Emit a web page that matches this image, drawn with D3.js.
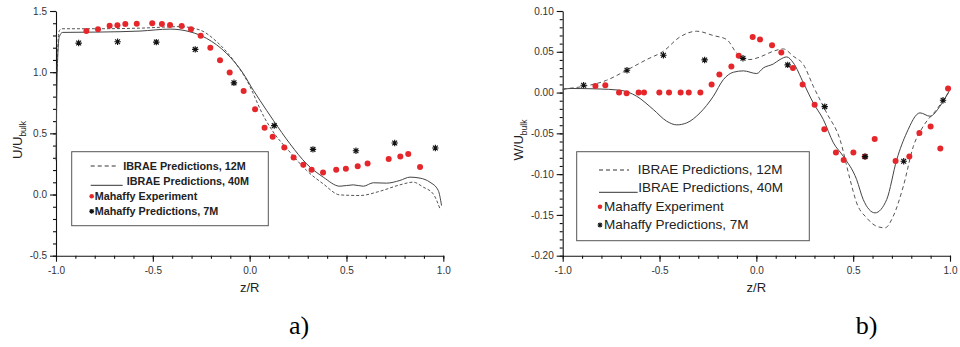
<!DOCTYPE html>
<html>
<head>
<meta charset="utf-8">
<script src="https://cdn.jsdelivr.net/npm/d3@7"></script>
<style>
  body { margin: 0; background: #fff; }
  svg { display: block; }
  .tick text { font-family: "Liberation Sans", Arial, sans-serif; font-size: 10px; fill: #333; }
</style>
</head>
<body>
<svg width="960" height="347"></svg>
<script>
// ---- data ----
const xTicks = [-1.0, -0.5, 0.0, 0.5, 1.0];
const uTicks = [-0.5, 0.0, 0.5, 1.0, 1.5];
const wTicks = [-0.20, -0.15, -0.10, -0.05, 0.00, 0.05, 0.10];

// panel a) U/Ubulk
const uIbrae12 = [
  [-0.995, 1.0], [-0.985, 1.33], [-0.971, 1.355], [-0.773, 1.355], [-0.566, 1.36], [-0.36, 1.372],
  [-0.256, 1.344], [-0.17, 1.249], [-0.084, 1.098], [-0.015, 0.934], [0.079, 0.62], [0.122, 0.511],
  [0.208, 0.347], [0.294, 0.197], [0.38, 0.087], [0.466, -0.003], [0.57, -0.008], [0.673, 0.027],
  [0.776, 0.079], [0.845, 0.101], [0.897, 0.06], [0.948, 0.005], [0.983, -0.117]
];
const uIbrae40 = [
  [-1.0, 0.28], [-0.993, 1.04], [-0.983, 1.29], [-0.966, 1.325], [-0.773, 1.328], [-0.566, 1.336],
  [-0.411, 1.352], [-0.308, 1.33], [-0.222, 1.276], [-0.119, 1.153], [-0.033, 0.989], [0.019, 0.852],
  [0.053, 0.77], [0.122, 0.607], [0.208, 0.415], [0.294, 0.251], [0.38, 0.142], [0.466, 0.068],
  [0.535, 0.079], [0.587, 0.068], [0.639, 0.096], [0.707, 0.093], [0.776, 0.115], [0.828, 0.142],
  [0.88, 0.134], [0.931, 0.101], [0.974, 0.033], [0.991, -0.09]
];
const uExp = [
  [-0.843, 1.336], [-0.783, 1.35], [-0.723, 1.38], [-0.683, 1.383], [-0.642, 1.393], [-0.583, 1.396],
  [-0.503, 1.399], [-0.453, 1.393], [-0.411, 1.385], [-0.351, 1.377], [-0.303, 1.35], [-0.253, 1.298],
  [-0.203, 1.2], [-0.153, 1.098], [-0.103, 0.997], [-0.031, 0.847], [0.028, 0.697], [0.077, 0.546],
  [0.119, 0.473], [0.179, 0.385], [0.227, 0.303], [0.277, 0.243], [0.32, 0.202], [0.379, 0.18],
  [0.447, 0.202], [0.497, 0.21], [0.558, 0.232], [0.609, 0.254], [0.718, 0.29], [0.778, 0.311],
  [0.819, 0.331], [0.88, 0.224]
];
const uMah7 = [
  [-0.883, 1.238], [-0.682, 1.249], [-0.482, 1.246], [-0.281, 1.186], [-0.081, 0.913],
  [0.127, 0.563], [0.327, 0.369], [0.549, 0.358], [0.749, 0.421], [0.959, 0.38]
];

// panel b) W/Ubulk
const wIbrae12 = [
  [-1.0, 0.0045], [-0.91, 0.0069], [-0.773, 0.0151], [-0.67, 0.0274], [-0.566, 0.0405], [-0.48, 0.0507],
  [-0.394, 0.0683], [-0.308, 0.0752], [-0.222, 0.0699], [-0.153, 0.065], [-0.102, 0.0486], [-0.033, 0.0405],
  [0.019, 0.0437], [0.088, 0.0507], [0.139, 0.0535], [0.191, 0.0445], [0.243, 0.0343], [0.294, 0.0078],
  [0.363, -0.0249], [0.432, -0.0576], [0.484, -0.1067], [0.518, -0.1353], [0.57, -0.1537], [0.621, -0.1639],
  [0.664, -0.1659], [0.707, -0.1516], [0.759, -0.1148], [0.811, -0.0658], [0.862, -0.0413], [0.931, -0.0208],
  [0.991, -0.0004]
];
const wIbrae40 = [
  [-1.0, 0.0037], [-0.962, 0.005], [-0.824, 0.0045], [-0.704, 0.0029], [-0.618, -0.0045], [-0.532, -0.0208],
  [-0.463, -0.0351], [-0.411, -0.0396], [-0.36, -0.0372], [-0.291, -0.0249], [-0.222, -0.0045], [-0.17, 0.016],
  [-0.119, 0.0249], [-0.067, 0.0266], [0.002, 0.0233], [0.036, 0.0302], [0.088, 0.0351], [0.122, 0.0405],
  [0.157, 0.0437], [0.191, 0.0364], [0.243, 0.0119], [0.294, -0.0127], [0.346, -0.0331], [0.398, -0.0617],
  [0.449, -0.0781], [0.518, -0.1067], [0.552, -0.1312], [0.613, -0.1475], [0.673, -0.1312], [0.725, -0.0822],
  [0.776, -0.0495], [0.845, -0.0249], [0.897, -0.029], [0.948, -0.0168], [1.0, 0.0037]
];
const wExp = [
  [-0.831, 0.0082], [-0.78, 0.009], [-0.709, 0.0], [-0.67, -0.0008], [-0.608, 0.0], [-0.58, 0.0],
  [-0.501, 0.0], [-0.451, 0.0], [-0.391, 0.0], [-0.349, 0.0], [-0.289, 0.0], [-0.231, 0.0098],
  [-0.191, 0.022], [-0.129, 0.032], [-0.091, 0.045], [-0.019, 0.068], [0.019, 0.065], [0.081, 0.058],
  [0.129, 0.049], [0.189, 0.03], [0.239, 0.0098], [0.301, -0.015], [0.351, -0.045], [0.411, -0.0736],
  [0.451, -0.0826], [0.501, -0.0736], [0.561, -0.0785], [0.611, -0.0568], [0.719, -0.0838], [0.79, -0.0785],
  [0.842, -0.0495], [0.9, -0.0417], [0.95, -0.0687], [0.99, 0.0049]
];
const wMah7 = [
  [-0.892, 0.009], [-0.668, 0.0274], [-0.48, 0.0458], [-0.267, 0.04], [-0.069, 0.042],
  [0.162, 0.0339], [0.353, -0.0172], [0.561, -0.0785], [0.761, -0.0842], [0.964, -0.0094]
];

const legendLabels = ["IBRAE Predictions, 12M", "IBRAE Predictions, 40M", "Mahaffy Experiment", "Mahaffy Predictions, 7M"];

const svg = d3.select("svg");
const red = "#e5262b";

function asterisk(g, x, y, s) {
  const a = s * 0.75;
  g.append("path")
    .attr("d", `M${x - s},${y}H${x + s}M${x},${y - s}V${y + s}M${x - a},${y - a}L${x + a},${y + a}M${x - a},${y + a}L${x + a},${y - a}`)
    .attr("stroke", "#111").attr("stroke-width", 1.15).attr("fill", "none");
}

function panel(cfg) {
  const g = svg.append("g");
  const x = d3.scaleLinear().domain([-1, 1]).range([cfg.left, cfg.right]);
  const y = d3.scaleLinear().domain(cfg.yDomain).range([255.7, 11]);

  // minor ticks
  g.append("g").attr("transform", `translate(0,255.7)`)
    .call(d3.axisBottom(x).tickValues(d3.range(-10, 11).map(d => d / 10)).tickSize(3).tickFormat(""))
    .call(a => a.select(".domain").remove());
  g.append("g").attr("transform", `translate(${cfg.left},0)`)
    .call(d3.axisLeft(y).tickValues(d3.range(Math.round(cfg.yDomain[0] / cfg.minor), Math.round(cfg.yDomain[1] / cfg.minor) + 1).map(d => d * cfg.minor)).tickSize(3).tickFormat(""))
    .call(a => a.select(".domain").remove());

  // major axes
  g.append("g").attr("transform", `translate(0,255.7)`)
    .call(d3.axisBottom(x).tickValues(xTicks).tickSize(6).tickSizeOuter(0).tickPadding(5).tickFormat(d => d.toFixed(1)));
  g.append("g").attr("transform", `translate(${cfg.left},0)`)
    .call(d3.axisLeft(y).tickValues(cfg.yTicks).tickSize(6).tickSizeOuter(0).tickPadding(3).tickFormat(d => d.toFixed(cfg.dec)));
  g.selectAll(".domain, .tick line").attr("stroke", "#111").attr("stroke-width", 1.1);

  const line = d3.line().x(d => x(d[0])).y(d => y(d[1])).curve(d3.curveMonotoneX);
  g.append("path").datum(cfg.s12).attr("d", line)
    .attr("fill", "none").attr("stroke", "#555").attr("stroke-width", 1).attr("stroke-dasharray", cfg.dash);
  g.append("path").datum(cfg.s40).attr("d", line)
    .attr("fill", "none").attr("stroke", "#444").attr("stroke-width", 1);

  g.selectAll(".exp").data(cfg.exp).enter().append("circle")
    .attr("cx", d => x(d[0])).attr("cy", d => y(d[1])).attr("r", 3).attr("fill", red);
  cfg.mah.forEach(d => asterisk(g, x(d[0]), y(d[1]), 3.2));

  // axis titles
  g.append("text").attr("x", (cfg.left + cfg.right) / 2).attr("y", 292)
    .attr("text-anchor", "middle").attr("font-family", "Liberation Sans, Arial, sans-serif")
    .attr("font-size", 13).attr("fill", "#222").text("z/R");
  const yt = g.append("text").attr("transform", `translate(${cfg.ylx},140) rotate(-90)`)
    .attr("text-anchor", "middle").attr("font-family", "Liberation Sans, Arial, sans-serif")
    .attr("font-size", 13).attr("fill", "#222");
  yt.append("tspan").text(cfg.ylab);
  yt.append("tspan").attr("dy", 4).attr("font-size", 8.5).text("bulk");

  g.append("text").attr("x", cfg.tagX).attr("y", 334).attr("text-anchor", "middle")
    .attr("font-family", "Liberation Serif, Times New Roman, serif").attr("font-size", 26)
    .attr("fill", "#000").text(cfg.tag);

  // legend
  const L = cfg.leg;
  g.append("rect").attr("x", L.x0).attr("y", L.y0).attr("width", L.x1 - L.x0).attr("height", L.y1 - L.y0)
    .attr("fill", "#fff").attr("stroke", "#555").attr("stroke-width", 1);
  const lt = (i, tx) => g.append("text").attr("x", tx).attr("y", L.rows[i])
    .attr("font-family", "Liberation Sans, Arial, sans-serif").attr("font-size", L.fs)
    .attr("font-weight", L.fw).attr("fill", "#222").text(legendLabels[i]);
  g.append("line").attr("x1", L.sx).attr("x2", L.dx2).attr("y1", L.rows[0] - 4).attr("y2", L.rows[0] - 4)
    .attr("stroke", "#333").attr("stroke-width", 1).attr("stroke-dasharray", "4,3");
  lt(0, L.t0);
  g.append("line").attr("x1", L.sx).attr("x2", L.sx2).attr("y1", L.rows[1]).attr("y2", L.rows[1])
    .attr("stroke", "#333").attr("stroke-width", 1);
  lt(1, L.t1);
  g.append("circle").attr("cx", L.sx + 1).attr("cy", L.rows[2] - 4).attr("r", 2.3).attr("fill", red);
  lt(2, L.t2);
  asterisk(g, L.sx + 1, L.rows[3] - 4, 2.4);
  lt(3, L.t2);
}

panel({
  left: 56, right: 443.3, yDomain: [-0.5, 1.5], yTicks: uTicks, minor: 0.1, dec: 1,
  s12: uIbrae12, s40: uIbrae40, exp: uExp, mah: uMah7, dash: "3,2",
  ylab: "U/U", ylx: 22, tag: "a)", tagX: 299,
  leg: { x0: 71.7, x1: 268.3, y0: 151.7, y1: 225.7, rows: [170, 185.3, 200.3, 215.3],
         sx: 90.7, dx2: 116, sx2: 122.7, t0: 123.3, t1: 126.7, t2: 94.7, fs: 10.8, fw: "bold" }
});
panel({
  left: 562.7, right: 950, yDomain: [-0.2, 0.1], yTicks: wTicks, minor: 0.01, dec: 2,
  s12: wIbrae12, s40: wIbrae40, exp: wExp, mah: wMah7, dash: "4,3",
  ylab: "W/U", ylx: 523, tag: "b)", tagX: 866.7,
  leg: { x0: 576.7, x1: 809.3, y0: 151.7, y1: 240.7, rows: [174, 192.3, 210.7, 229],
         sx: 599, dx2: 629, sx2: 637.7, t0: 637.7, t1: 638.3, t2: 604, fs: 13.5, fw: "normal" }
});
</script>
</body>
</html>
